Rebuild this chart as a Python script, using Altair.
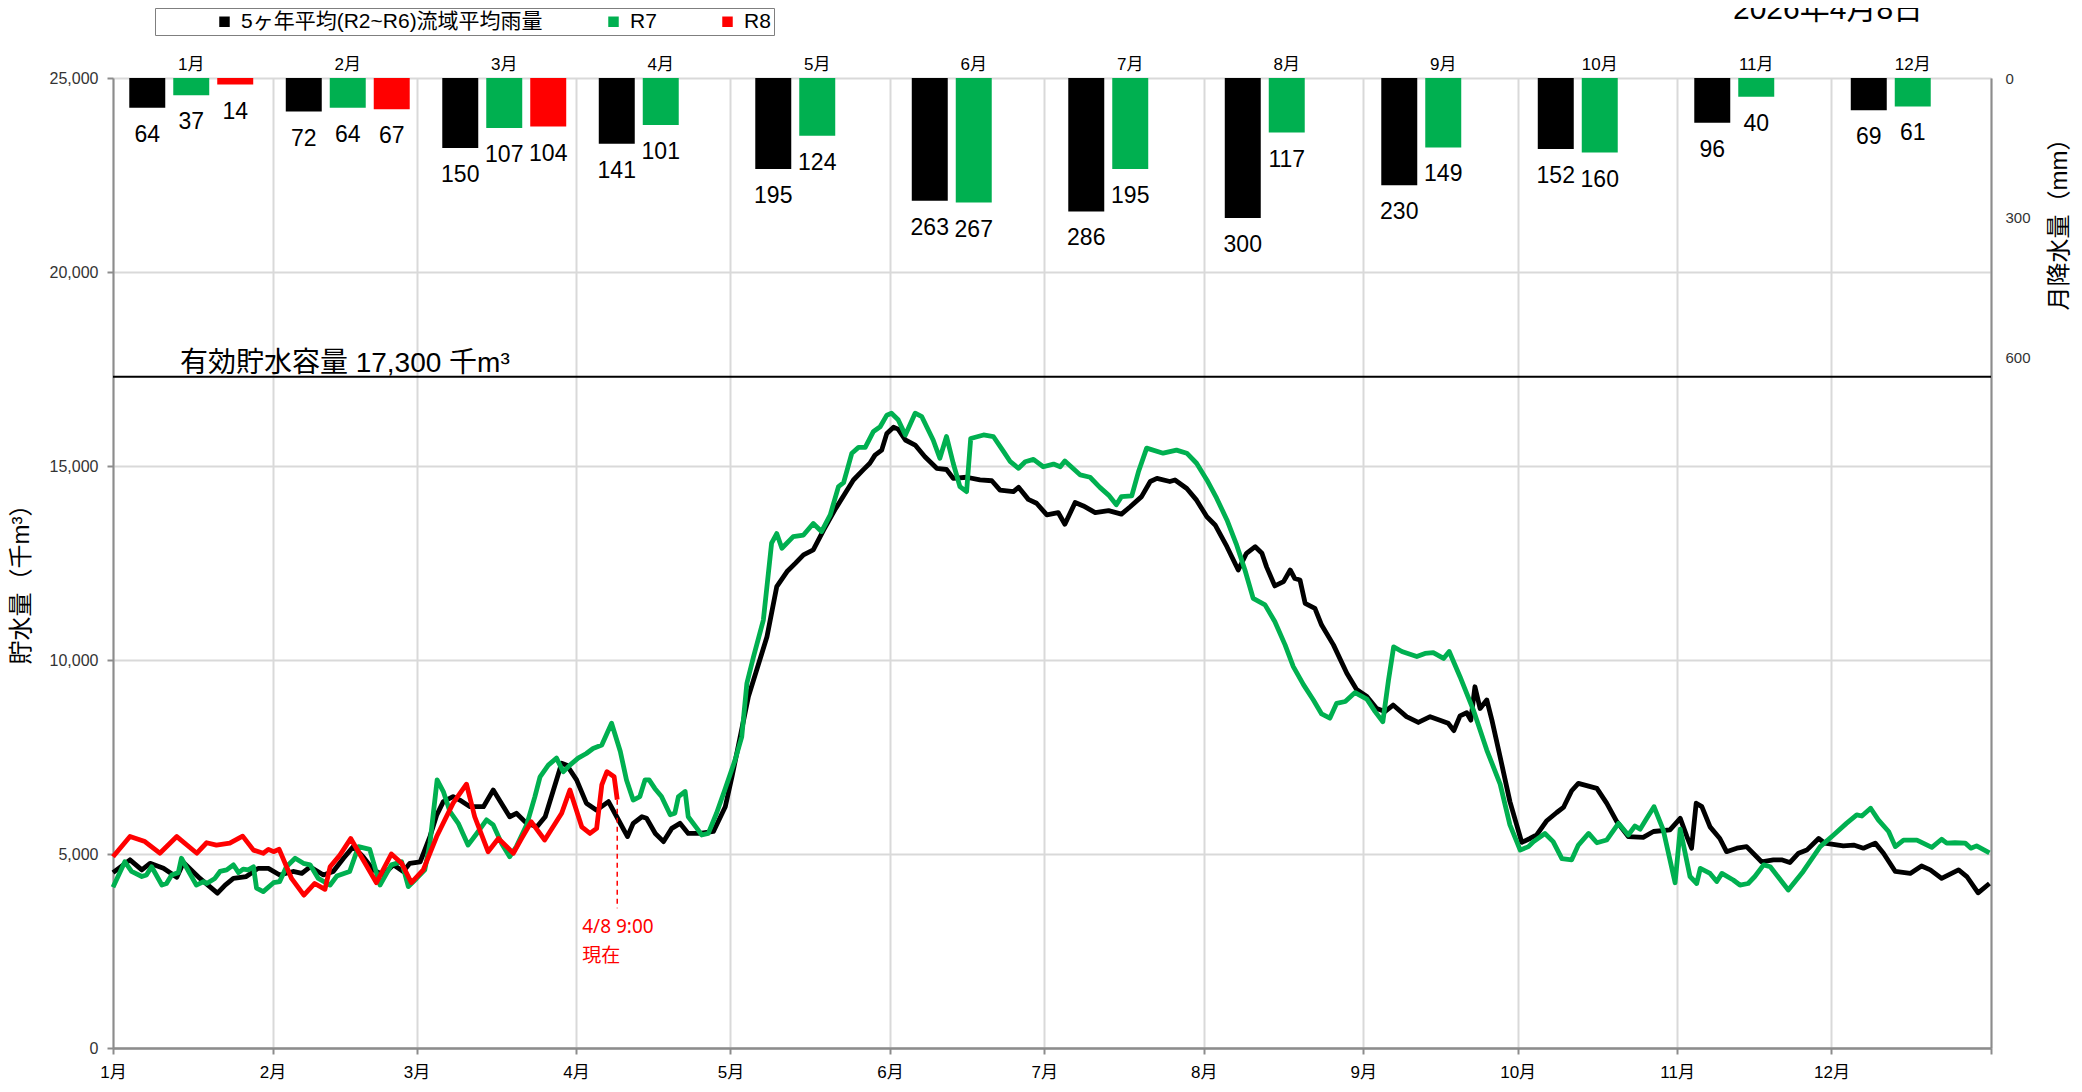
import altair as alt
import pandas as pd

# ---------------- data ----------------
months = ["1月", "2月", "3月", "4月", "5月", "6月", "7月", "8月", "9月", "10月", "11月", "12月"]
series_names = ["5ヶ年平均(R2~R6)流域平均雨量", "R7", "R8"]
series_colors = ["#000000", "#00b050", "#ff0000"]

rain_avg = [64, 72, 150, 141, 195, 263, 286, 300, 230, 152, 96, 69]
rain_r7 = [37, 64, 107, 101, 124, 267, 195, 117, 149, 160, 40, 61]
rain_r8 = [14, 67, 104]

month_start_days = [0, 31, 59, 90, 120, 151, 181, 212, 243, 273, 304, 334, 365]

avg_day = [0, 3.3, 5.6, 7.2, 9.8, 12.4, 13.7, 16.9, 18.8, 20.3, 21.8, 23.4, 25.9, 28.2, 30.2,
           32.4, 35.0, 36.7, 38.3, 40.9, 42.8, 44.8, 46.7, 48.6, 50.6, 52.5, 54.5, 56.4, 57.7,
           59.7, 61.6, 62.9, 64.2, 66.1, 67.4, 69.4, 72.0, 73.9, 75.9, 77.1, 78.4, 80.4, 82.4,
           84.0, 85.6, 87.2, 88.2, 90.1, 92.0, 94.0, 96.3, 97.9, 100.0, 101.1, 102.8, 103.7,
           105.4, 107.0, 108.6, 110.2, 111.8, 114.1, 116.7, 119.0, 120.3, 121.9, 123.5, 125.1,
           127.1, 129.0, 131.0, 132.6, 134.2, 136.1, 138.1, 140.3, 142.3, 143.9, 145.8, 147.1,
           148.1, 149.4, 150.4, 151.7, 152.6, 154.0, 155.9, 157.8, 160.1, 162.0, 163.3, 165.9,
           168.5, 170.8, 172.4, 175.0, 176.0, 177.9, 179.5, 181.5, 183.7, 185.0, 187.0, 188.6,
           190.9, 193.5, 196.0, 197.7, 199.9, 201.6, 202.9, 205.4, 206.4, 208.7, 210.6, 212.6,
           214.2, 216.5, 218.7, 220.3, 222.0, 223.3, 224.2, 225.8, 227.5, 228.8, 229.7, 230.7,
           231.7, 233.6, 234.9, 237.2, 239.8, 241.7, 243.7, 245.6, 247.2, 248.8, 251.4, 253.7,
           256.0, 257.9, 259.5, 260.6, 261.8, 263.1, 263.9, 264.7, 265.7, 267.0, 268.0, 269.6,
           271.5, 273.8, 275.4, 276.7, 278.6, 280.6, 281.9, 283.5, 284.8, 288.4, 290.3, 292.3,
           294.5, 297.4, 299.4, 302.6, 304.6, 305.9, 306.8, 307.7, 308.8, 310.4, 312.3, 313.6,
           315.6, 317.5, 320.4, 322.7, 324.3, 325.9, 327.6, 329.2, 331.5, 332.7, 336.3, 338.3,
           340.2, 342.5, 344.1, 346.4, 349.3, 351.5, 353.2, 355.4, 358.7, 360.3, 362.5, 364.7]
avg_val = [4520, 4850, 4590, 4760, 4630, 4400, 4780, 4370, 4160, 3990, 4200, 4370, 4420, 4630, 4630,
           4460, 4550, 4500, 4670, 4460, 4550, 4890, 5190, 4930, 4590, 4460, 4720, 4550, 4760,
           4800, 5450, 6000, 6350, 6480, 6390, 6220, 6220, 6650, 6220, 5960, 6050, 5790, 5700,
           5960, 6650, 7340, 7290, 6910, 6310, 6130, 6350, 5960, 5450, 5790, 5960, 5920,
           5530, 5320, 5660, 5790, 5530, 5530, 5580, 6220, 6990, 8020, 9060, 9740,
           10600, 11890, 12280, 12490, 12710, 12840, 13350, 13870, 14300, 14640, 14900, 15070,
           15280, 15410, 15840, 16000, 15950, 15670, 15540, 15240, 14940, 14910, 14680, 14710,
           14640, 14620, 14380, 14340, 14450, 14140, 14040, 13740, 13800, 13500, 14060, 13970,
           13800, 13850, 13760, 13950, 14210, 14600, 14680, 14600, 14640, 14420, 14120, 13690,
           13480, 12920, 12320, 12750, 12920, 12750, 12400, 11910, 12020, 12320, 12100, 12060,
           11460, 11330, 10900, 10390, 9660, 9240, 9060, 8750, 8670, 8840, 8540, 8390,
           8540, 8450, 8370, 8180, 8560, 8640, 8450, 9310, 8750, 8970, 8450, 7500,
           6350, 5300, 5400, 5490, 5850, 6070, 6200, 6630, 6820, 6690, 6310, 5830,
           5450, 5430, 5580, 5620, 5920, 5450, 5150, 6310, 6220, 5700, 5400, 5060,
           5150, 5190, 4800, 4850, 4850, 4780, 5020, 5100, 5400, 5280, 5210, 5230,
           5150, 5280, 5020, 4550, 4500, 4690, 4590, 4370, 4590, 4420, 4000, 4240]

r7_day = [0, 2.3, 3.6, 5.6, 6.5, 7.5, 9.5, 10.4, 11.4, 12.7, 13.3, 14.9, 16.2, 17.6, 18.2, 19.8,
          20.8, 22.1, 23.4, 24.4, 25.3, 26.3, 27.3, 27.9, 29.2, 31.2, 32.4, 33.7, 35.4, 37.0,
          38.3, 39.9, 42.2, 43.5, 46.0, 47.7, 49.9, 51.9, 54.1, 56.1, 57.4, 59.0, 60.6, 61.6,
          63.0, 64.2, 65.5, 67.1, 69.0, 70.7, 72.6, 73.9, 75.5, 77.1, 78.4, 80.4, 82.0, 83.0,
          84.6, 86.2, 87.5, 88.8, 90.4, 92.0, 93.3, 95.0, 96.9, 98.6, 99.8, 101.1, 102.4,
          103.4, 104.2, 105.3, 106.6, 108.3, 109.2, 109.9, 111.2, 111.8, 113.5, 114.4, 115.7,
          117.3, 119.0, 120.9, 122.2, 123.2, 124.5, 126.4, 128.0, 129.0, 130.0, 132.2, 134.2,
          136.1, 137.7, 139.4, 141.0, 142.0, 143.6, 144.9, 146.2, 147.8, 149.1, 150.4, 151.3,
          152.6, 154.0, 155.9, 157.2, 159.4, 160.7, 162.0, 163.3, 164.6, 165.9, 166.7, 169.2,
          171.1, 173.1, 174.4, 176.0, 177.3, 178.9, 180.8, 182.8, 184.1, 185.0, 188.0, 189.9,
          191.8, 193.5, 195.0, 196.0, 198.0, 199.3, 200.9, 204.1, 206.7, 208.7, 210.6, 212.6,
          214.5, 216.5, 218.4, 220.0, 221.6, 223.9, 225.8, 227.8, 229.4, 231.4, 233.3, 234.9,
          236.5, 237.8, 239.5, 241.4, 243.7, 245.3, 246.8, 247.9, 248.9, 250.5, 253.4, 255.0,
          256.6, 258.6, 259.7, 261.8, 264.4, 267.0, 269.6, 271.5, 273.5, 275.1, 276.1, 278.3,
          279.9, 281.6, 283.5, 284.8, 286.8, 288.4, 290.3, 292.6, 294.5, 295.8, 296.8, 298.1,
          299.5, 301.3, 302.6, 303.6, 304.6, 306.5, 307.8, 308.5, 310.4, 311.7, 312.7, 314.9,
          316.2, 317.8, 319.1, 320.8, 322.1, 325.6, 328.5, 331.8, 334.4, 336.9, 338.9, 339.9,
          341.6, 343.1, 345.1, 346.4, 348.0, 350.6, 353.5, 355.4, 356.4, 358.0, 360.0, 361.1,
          362.2, 364.7]
r7_val = [4140, 4800, 4550, 4420, 4460, 4670, 4200, 4240, 4460, 4520, 4890, 4500, 4200, 4290, 4240, 4370,
          4550, 4590, 4720, 4520, 4610, 4590, 4670, 4120, 4030, 4260, 4290, 4670, 4890, 4760,
          4720, 4370, 4200, 4430, 4550, 5190, 5120, 4200, 4720, 4800, 4160, 4370, 4590, 5280,
          6910, 6610, 6090, 5790, 5230, 5530, 5880, 5750, 5280, 4930, 5190, 5750, 6480, 6990,
          7290, 7470, 7120, 7290, 7470, 7590, 7720, 7810, 8370, 7640, 6910, 6390, 6480,
          6910, 6910, 6690, 6480, 6010, 6050, 6480, 6610, 5960, 5660, 5490, 5530,
          6050, 6690, 7420, 8020, 9400, 10090, 11030, 13010, 13260, 12880, 13180, 13220,
          13520, 13310, 13740, 14470, 14570, 15330, 15480, 15480, 15890, 16010, 16310, 16360,
          16190, 15800, 16360, 16270, 15670, 15200, 15760, 15070, 14470, 14340, 15710, 15800,
          15760, 15370, 15110, 14940, 15110, 15170, 14980, 15050, 14980, 15130, 14770, 14710,
          14450, 14250, 14000, 14210, 14230, 14850, 15460, 15330, 15410, 15330, 15070, 14640,
          14170, 13610, 12960, 12320, 11590, 11420, 10990, 10390, 9830, 9360, 8970, 8610,
          8500, 8880, 8930, 9160, 8990, 8670, 8410, 9480, 10340, 10220, 10090, 10170,
          10190, 10040, 10220, 9570, 8710, 7680, 6800, 5750, 5100, 5190, 5320, 5530,
          5320, 4880, 4850, 5230, 5530, 5290, 5360, 5790, 5490, 5720, 5640, 5920,
          6220, 5620, 4850, 4260, 5640, 4420, 4240, 4630, 4500, 4290, 4500, 4330,
          4200, 4240, 4420, 4720, 4670, 4070, 4550, 5190, 5490, 5790, 6010, 5980,
          6180, 5880, 5580, 5190, 5360, 5360, 5170, 5380, 5280, 5290, 5280, 5150,
          5210, 5030]

r8_day = [0, 3.3, 6.2, 9.1, 12.4, 16.3, 18.2, 20.1, 22.7, 25.2, 27.3, 29.2, 30.2, 31.2, 32.3,
          34.7, 37.1, 39.2, 41.2, 42.2, 44.1, 46.2, 48.6, 51.2, 54.1, 56.1, 58.0, 60.3, 62.9,
          66.1, 68.7, 70.3, 72.9, 74.9, 77.8, 79.4, 81.3, 83.9, 87.2, 88.8, 91.1, 92.7, 94.0,
          95.0, 96.0, 97.4, 98.0]
r8_val = [4930, 5450, 5320, 5020, 5450, 5020, 5290, 5230, 5280, 5460, 5100, 5020, 5120, 5060, 5120,
          4370, 3940, 4240, 4090, 4670, 4970, 5400, 4850, 4260, 5000, 4760, 4260, 4590, 5450,
          6310, 6800, 5960, 5060, 5400, 5020, 5400, 5830, 5360, 6050, 6650, 5700, 5530, 5660,
          6780, 7120, 6990, 6400]

capacity = 17300
capacity_label = "有効貯水容量 17,300 千m³"
capacity_label_day = 13
now_day = 98
now_label = "4/8 9:00"
now_label2 = "現在"
now_rule_bottom = 3600
date_title = "2026年4月8日"

# ---------------- tables ----------------
rain_rows = []
for i, m in enumerate(months):
    rain_rows.append({"month": m, "series": series_names[0], "rain": rain_avg[i]})
    rain_rows.append({"month": m, "series": series_names[1], "rain": rain_r7[i]})
    if i < len(rain_r8):
        rain_rows.append({"month": m, "series": series_names[2], "rain": rain_r8[i]})
rain_df = pd.DataFrame(rain_rows)

avg_df = pd.DataFrame({"day": avg_day, "value": avg_val})
r7_df = pd.DataFrame({"day": r7_day, "value": r7_val})
r8_df = pd.DataFrame({"day": r8_day, "value": r8_val})

BASE_FONT = "Liberation Sans, Arial, Noto Sans CJK JP, sans-serif"
AXIS_GRAY = "#8c8c8c"
GRID_GRAY = "#d9d9d9"

# ---------------- bar (monthly rainfall) group ----------------
bar_x = alt.X(
    "month:N", sort=months,
    scale=alt.Scale(domain=months, paddingInner=0.208, paddingOuter=0.104),
    axis=alt.Axis(orient="top", title=None, labelAngle=0, ticks=False, tickSize=0, domain=False,
                  grid=False, labelFontSize=17, labelPadding=5, labelColor="#000000",
                  labelFont=BASE_FONT),
)
bar_xoff = alt.XOffset(
    "series:N", sort=series_names,
    scale=alt.Scale(domain=series_names, paddingInner=0.182, paddingOuter=0),
)
bar_y = alt.Y(
    "rain:Q",
    scale=alt.Scale(domain=[0, 2080], reverse=True, nice=False, zero=True),
    axis=alt.Axis(orient="right", values=[0, 300, 600], ticks=False, grid=False,
                  domainColor=AXIS_GRAY, domainWidth=2, labelPadding=14, labelFontSize=15,
                  labelColor="#333333", labelFont=BASE_FONT,
                  title="月降水量（mm）", titleAngle=270, titleX=68, titleY=140,
                  titleFontSize=24, titleFontWeight="normal", titleAlign="center",
                  titleBaseline="middle", titleColor="#000000", titleFont=BASE_FONT),
)

bars = alt.Chart(rain_df).mark_bar().encode(
    x=bar_x, xOffset=bar_xoff, y=bar_y,
    color=alt.Color(
        "series:N",
        scale=alt.Scale(domain=series_names, range=series_colors),
        legend=alt.Legend(
            title=" ", titleOrient="left", titlePadding=56, titleFontSize=10,
            orient="none", legendX=42, legendY=-70, direction="horizontal",
            symbolType="square", symbolSize=110, symbolStrokeWidth=0,
            labelFontSize=21, labelFont=BASE_FONT, labelColor="#000000", labelLimit=600,
            labelOffset=6, columnPadding=60,
            strokeColor="#7f7f7f", fillColor="#ffffff", padding=3,
        ),
    ),
)
bar_labels = alt.Chart(rain_df).mark_text(
    baseline="alphabetic", dy=34, fontSize=23, font=BASE_FONT, color="#000000"
).encode(x=bar_x, xOffset=bar_xoff, y=bar_y, text=alt.Text("rain:Q"))

bar_group = alt.layer(bars, bar_labels)

# ---------------- line (storage) group ----------------
label_expr = (
    f"indexof({month_start_days}, datum.value) >= 0 && indexof({month_start_days}, datum.value) < 12 ? "
    f"(indexof({month_start_days}, datum.value) + 1) + '月' : ''"
)
line_x = alt.X(
    "day:Q",
    scale=alt.Scale(domain=[0, 365], nice=False, zero=False),
    axis=alt.Axis(orient="bottom", values=month_start_days, labelExpr=label_expr, title=None,
                  grid=True, gridColor=GRID_GRAY, gridWidth=2, tickColor=AXIS_GRAY, tickSize=6,
                  tickWidth=2, domainColor=AXIS_GRAY, domainWidth=2.5, labelFontSize=17,
                  labelPadding=10, labelColor="#000000", labelFlush=False, labelOverlap=False,
                  labelFont=BASE_FONT),
)
line_y = alt.Y(
    "value:Q",
    scale=alt.Scale(domain=[0, 25000], nice=False),
    axis=alt.Axis(orient="left", values=list(range(0, 25001, 5000)),
                  labelExpr="format(datum.value, ',')", grid=True,
                  gridColor=GRID_GRAY, gridWidth=2, tickSize=6, tickColor=AXIS_GRAY, tickWidth=2,
                  domainColor=AXIS_GRAY, domainWidth=2, labelFontSize=16, labelPadding=9,
                  labelColor="#333333", labelFont=BASE_FONT,
                  title="貯水量（千m³）", titleFontSize=24, titleFontWeight="normal",
                  titleAngle=270, titleX=-92, titleY=500, titleAlign="center",
                  titleBaseline="middle", titleColor="#000000", titleFont=BASE_FONT),
)

line_avg = alt.Chart(avg_df).mark_line(color=series_colors[0], strokeWidth=4.8, strokeJoin="round").encode(x=line_x, y=line_y)
line_r7 = alt.Chart(r7_df).mark_line(color=series_colors[1], strokeWidth=4.8, strokeJoin="round").encode(x=line_x, y=line_y)
line_r8 = alt.Chart(r8_df).mark_line(color=series_colors[2], strokeWidth=4.8, strokeJoin="round").encode(x=line_x, y=line_y)

cap_df = pd.DataFrame({"value": [capacity], "day": [capacity_label_day], "label": [capacity_label]})
cap_rule = alt.Chart(cap_df).mark_rule(color="#000000", strokeWidth=2).encode(y=line_y)
cap_text = alt.Chart(cap_df).mark_text(
    align="left", baseline="alphabetic", dy=-5, fontSize=28, font=BASE_FONT, color="#000000"
).encode(x=line_x, y=line_y, text="label:N")

now_df = pd.DataFrame({"day": [now_day], "value": [r8_val[-1]], "value2": [now_rule_bottom]})
now_rule = alt.Chart(now_df).mark_rule(color="#ff0000", strokeWidth=1.5, strokeDash=[5, 4]).encode(
    x=line_x, y=line_y, y2="value2:Q")
now_text_df = pd.DataFrame({"day": [now_day], "value": [now_rule_bottom],
                            "l1": [now_label], "l2": [now_label2]})
now_text1 = alt.Chart(now_text_df).mark_text(
    align="left", baseline="alphabetic", dx=-35, dy=25, fontSize=19,
    font="Noto Sans, Noto Sans CJK JP, sans-serif", color="#ff0000"
).encode(x=line_x, y=line_y, text="l1:N")
now_text2 = alt.Chart(now_text_df).mark_text(
    align="left", baseline="alphabetic", dx=-35, dy=54, fontSize=19,
    font="Noto Sans, Noto Sans CJK JP, sans-serif", color="#ff0000"
).encode(x=line_x, y=line_y, text="l2:N")

title_df = pd.DataFrame({"t": [date_title]})
date_text = alt.Chart(title_df).mark_text(
    align="center", baseline="alphabetic", fontSize=30, font=BASE_FONT, color="#000000"
).encode(x=alt.value(1715), y=alt.value(-59), text="t:N")

line_group = alt.layer(cap_rule, line_avg, line_r7, line_r8, now_rule, cap_text, now_text1, now_text2, date_text)

chart = alt.layer(bar_group, line_group).resolve_scale(
    x="independent", y="independent"
).properties(
    width=1878, height=970,
    autosize=alt.AutoSizeParams(type="none"),
    padding={"left": 105, "top": 70, "right": 82, "bottom": 38},
    background="#ffffff",
).configure_view(stroke=None).configure(font=BASE_FONT)

chart.save("out.html", embed_options={"renderer": "svg", "actions": False})
